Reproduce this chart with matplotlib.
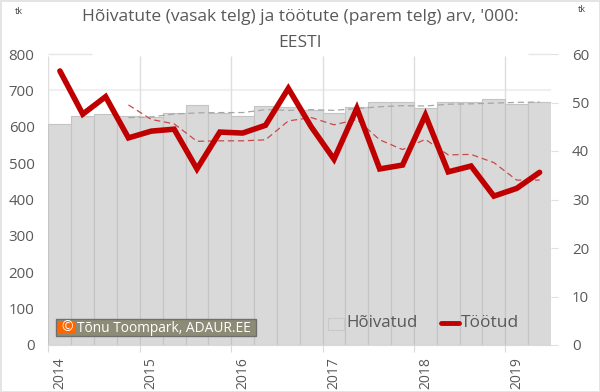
import matplotlib
matplotlib.use('Agg')
from matplotlib import pyplot as plt
from matplotlib.patches import Rectangle

plt.rcParams['font.family'] = ['Open Sans', 'DejaVu Sans']

years = ['2014', '2015', '2016', '2017', '2018', '2019']

# quarterly values, 2014 Q1 - 2019 Q2
employed = [607, 630, 634, 630, 627, 639, 660, 639, 630, 657, 653, 645,
            639, 653, 667, 667, 652, 667, 667, 676, 662, 667]
unemployed = [56.5, 47.6, 51.2, 42.7, 44.1, 44.5, 36.3, 43.9, 43.7, 45.3, 52.9,
              45.0, 38.3, 48.8, 36.3, 37.1, 47.4, 35.7, 36.9, 30.7, 32.3, 35.6]

# dashed trend lines start from the fourth quarter
employed_avg = [625, 627, 635, 638, 639, 639, 647, 645, 647, 645,
                650, 655, 658, 657, 662, 663, 665, 667, 668]
unemployed_avg = [49.5, 46.5, 45.6, 42.0, 42.1, 42.1, 42.3, 46.2, 46.9, 45.4,
                  46.5, 42.3, 40.3, 42.4, 39.2, 39.3, 37.6, 34.0, 34.0]

quarters = list(range(len(employed)))
year_pos = quarters[::4]
year_edges = [q - 0.5 for q in year_pos]

text_color = '#595959'

fig = plt.figure(figsize=(6, 3.92), dpi=100)
fig.patch.set_edgecolor('#e4e4e4')
fig.patch.set_linewidth(2)
ax = fig.add_axes([48.5 / 600, (392 - 345) / 392, 502.5 / 600, 291 / 392])

# Bars and grid.
ax.bar(quarters, employed, width=1, color='#d9d9d9', edgecolor='#c4c4c4',
       linewidth=0.8, zorder=2)
ax.plot(quarters[3:], employed_avg, color='#a6a6a6', lw=0.9, ls=(0, (5, 3)), zorder=3)
ax.set_xlim(-0.5, 21.5)
ax.set_ylim(0, 800)
ax.set_yticks(range(0, 801, 100))
ax.hlines(700, -0.5, 21.5, color='#efefef', lw=1.5, zorder=1)
# the title box hides the middle of the top gridline
ax.hlines(800, -0.5, 1.4, color='#e6e6e6', lw=1, zorder=1, clip_on=False)
ax.hlines(800, 20.5, 21.5, color='#e6e6e6', lw=1, zorder=1, clip_on=False)
ax.vlines(year_edges, 0, 795, color='#dedede', lw=1, zorder=1)

for side in ['top', 'left', 'right']:
    ax.spines[side].set_visible(False)
ax.spines['bottom'].set_color('#d9d9d9')

ax.set_xticks(year_edges)
ax.set_xticklabels([])
ax.tick_params(axis='x', length=5, color='#d9d9d9')
ax.tick_params(axis='y', length=0, labelsize=10.8, labelcolor=text_color, pad=10)

# Year labels sit under the first quarter of each year.
for pos, year in zip(year_pos, years):
    ax.annotate(year, (pos, 0), xytext=(0, -8.5), textcoords='offset points',
                rotation=90, ha='center', va='top', fontsize=10,
                color=text_color, annotation_clip=False)

# Unemployed on the right axis.
ax2 = ax.twinx()
ax2.plot(quarters[3:], unemployed_avg, color='#c84a4a', lw=0.9, ls=(0, (5, 3)), zorder=3)
ax2.plot(quarters, unemployed, color='#c00000', lw=4, solid_joinstyle='miter',
         solid_capstyle='round', zorder=4)
ax2.set_ylim(0, 60)
ax2.set_yticks(range(0, 61, 10))
for spine in ax2.spines.values():
    spine.set_visible(False)
ax2.tick_params(axis='y', length=5, width=0.8, color='#e0e0e0', labelsize=10.8,
                labelcolor=text_color, pad=10)

# Titles and units.
fig.text(300, 392 - 17, "Hõivatute (vasak telg) ja töötute (parem telg) arv, '000:",
         transform=None, ha='center', va='center', fontsize=12.5, color=text_color)
fig.text(300, 392 - 43, 'EESTI', transform=None, ha='center', va='center',
         fontsize=12.5, color=text_color)
fig.text(19, 392 - 11, 'tk', transform=None, ha='center', va='center', fontsize=6.5, color='#404040')
fig.text(582, 392 - 9, 'tk', transform=None, ha='center', va='center', fontsize=6.5, color='#404040')

# Legend drawn inside the plot.
fig.add_artist(Rectangle((328, 392 - 330), 16, 12, transform=None, fc='#d9d9d9',
                         ec='#c9c9c9', lw=0.8))
fig.text(346, 392 - 323, 'Hõivatud', transform=None, va='center', fontsize=12.2, color=text_color)
fig.add_artist(plt.Line2D([441, 459], [392 - 323, 392 - 323], transform=None,
                          color='#c00000', lw=3.5, solid_capstyle='round'))
fig.text(461, 392 - 323, 'Töötud', transform=None, va='center', fontsize=12.5, color=text_color)

# Source stamp.
fig.add_artist(Rectangle((56, 392 - 336), 200, 17, transform=None, fc='#8c8c76',
                         ec='#6e6e6e', lw=1))
fig.add_artist(Rectangle((58, 392 - 334), 18, 13, transform=None, fc='#ff6600', ec='none'))
fig.text(67, 392 - 327.5, '©', transform=None, ha='center', va='center', fontsize=10, color='white')
fig.text(77, 392 - 328, 'Tõnu Toompark, ADAUR.EE', transform=None, va='center',
         fontsize=9.9, color='white')

fig.savefig('out.png', dpi=100, edgecolor=fig.get_edgecolor())
